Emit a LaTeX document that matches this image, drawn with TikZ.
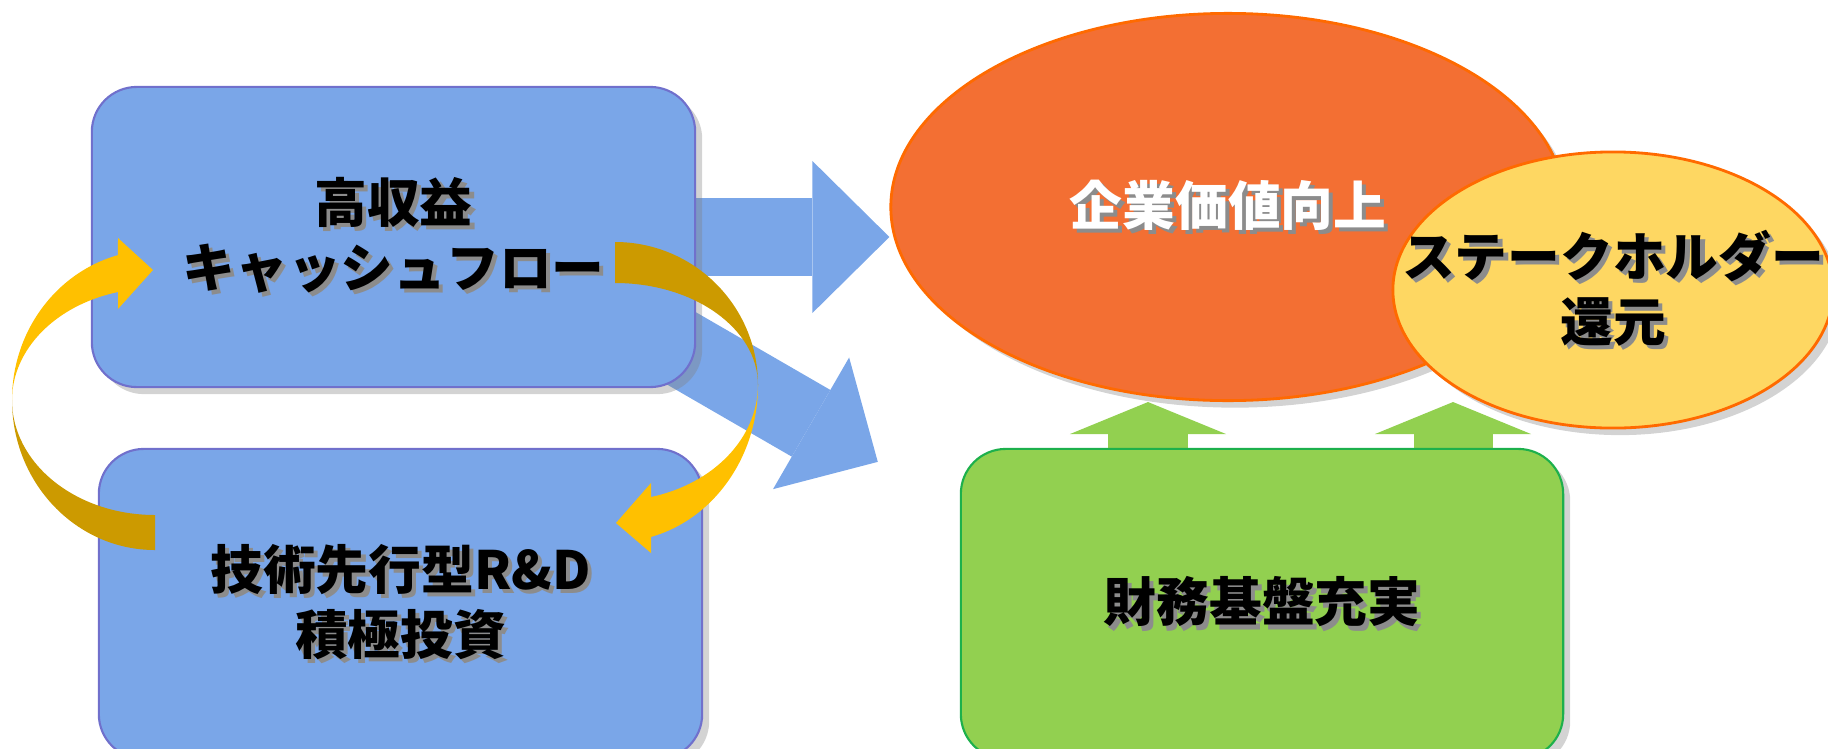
\documentclass[tikz,border=0pt]{standalone}
\usepackage{fontspec}
\usepackage{tikz}
\usetikzlibrary{calc}
\usetikzlibrary{arrows.meta}
\usetikzlibrary{shapes.geometric}
\usetikzlibrary{shadows}
\usetikzlibrary{backgrounds}
\newfontfamily\jpfont{Noto Sans CJK JP}[BoldFont={Noto Sans CJK JP Black}]
\definecolor{boxblue}{HTML}{7AA6E8}
\definecolor{boxline}{HTML}{7070CC}
\definecolor{valueorange}{HTML}{F36F33}
\definecolor{valueline}{HTML}{FF6A00}
\definecolor{holderyellow}{HTML}{FED762}
\definecolor{fingreen}{HTML}{92D050}
\definecolor{finline}{HTML}{1DB04C}
\definecolor{goldlight}{HTML}{FFC000}
\definecolor{golddark}{HTML}{CC9A00}
\newcommand\shtext[1]{\makebox[0pt][l]{\kern1.2pt\raisebox{-1.2pt}{\textcolor{black!45}{#1}}}#1}

\begin{document}
\begin{tikzpicture}[x=0.01cm, y=-0.01cm,
    every node/.style={font=\jpfont\bfseries\fontsize{15}{18.5}\selectfont, align=center, inner sep=0pt},
    panel/.style={rectangle, rounded corners=0.45cm, line width=0.6pt, minimum width=6.03cm,
      drop shadow={shadow xshift=2pt, shadow yshift=-2pt, opacity=0.35}},
    bubble/.style={ellipse, draw=valueline, line width=0.8pt,
      drop shadow={shadow xshift=2pt, shadow yshift=-2pt, opacity=0.35}},
    bluearrow/.style={boxblue, line width=0.77cm, -{Triangle[length=0.77cm, width=1.52cm, line width=0pt]}},
    greenarrow/.style={fingreen, line width=0.79cm, -{Triangle[length=0.32cm, width=1.56cm, line width=0pt]}}]
  \useasboundingbox (0,0) rectangle (1828,748);

  \node [panel, fill=boxblue, draw=boxline, minimum height=3cm] (cash) at (393.5,237) {\shtext{高収益}\\\shtext{キャッシュフロー}};
  \node [panel, fill=boxblue, draw=boxline, minimum height=3.1cm] (rnd) at (400.5,604) {\shtext{技術先行型R\&D}\\\shtext{積極投資}};
  \node [panel, fill=fingreen, draw=finline, minimum height=3.1cm, minimum width=6.02cm] (finance) at (1262,604) {\shtext{財務基盤充実}};
  \node [bubble, fill=valueorange, text=white, minimum width=6.74cm, minimum height=3.87cm] (value) at (1228,207) {\shtext{企業価値向上}};
  \node [bubble, fill=holderyellow, inner xsep=-0.7cm, minimum width=4.4cm, minimum height=2.76cm] (holder) at (1613,290) {\shtext{ステークホルダー}\\\shtext{還元}};

  \coordinate (diagtip) at ($(finance.north west)+(-82,14)$);
  \coordinate (lift1) at ($(finance.north)+(-114,30)$);
  \coordinate (lift2) at ($(finance.north)+(191,30)$);

  \begin{scope}[on background layer]
    \draw [bluearrow] (cash.center) -- (cash.center -| value.west);
    \draw [bluearrow] ($(cash.east)+(-95,65)$) -- (diagtip);
    \draw [greenarrow] (lift1) -- (lift1 |- value.south);
    \draw [greenarrow] (lift2) -- (lift2 |- value.south);
  \end{scope}

  \fill [golddark] (155,550) arc [start angle=90, end angle=180, x radius=143, y radius=150]
    arc [start angle=180, end angle=90, x radius=143, y radius=115] -- cycle;
  \fill [goldlight] (12,400) arc [start angle=180, end angle=255, x radius=143, y radius=150]
    -- (118,238) -- (153,270) -- (118,309) -- (118,292)
    arc [start angle=255, end angle=180, x radius=143, y radius=112] -- cycle;

  \fill [golddark] (615,242) arc [start angle=270, end angle=360, x radius=143, y radius=143]
    arc [start angle=0, end angle=-90, x radius=143, y radius=102] -- cycle;
  \fill [goldlight] (758,385) arc [start angle=0, end angle=75.4, x radius=143, y radius=157]
    -- (651,553) -- (616,523) -- (651,483) -- (651,497)
    arc [start angle=75.4, end angle=0, x radius=143, y radius=116] -- cycle;
\end{tikzpicture}
\end{document}
